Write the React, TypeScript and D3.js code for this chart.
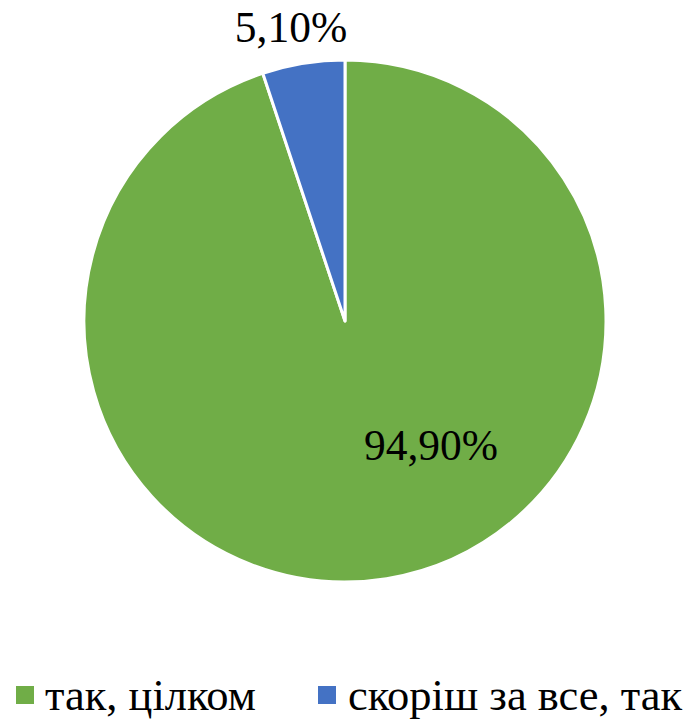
import React from "react";
import * as d3 from "d3";

const categories = ["так, цілком", "скоріш за все, так"];
const values = [94.9, 5.1];
const labels = ["94,90%", "5,10%"];
const colors = ["#70AD47", "#4472C4"];

const FONT = '"Liberation Serif"';

export default function App() {
  const width = 697;
  const height = 721;
  const cx = 345;
  const cy = 321;
  const r = 261;

  const pie = d3.pie<number>().sort(null).value((d) => d);
  const arcs = pie(values);
  const arc = d3.arc<d3.PieArcDatum<number>>().innerRadius(0).outerRadius(r);

  const labelPos = [
    { x: 431, y: 460 },
    { x: 291, y: 42 },
  ];

  const legendItems = [
    { sx: 16, tx: 45 },
    { sx: 318, tx: 348 },
  ];

  return (
    <svg
      width={width}
      height={height}
      style={{ position: "absolute", left: 0, top: 0, background: "#fff" }}
    >
      <g transform={`translate(${cx},${cy})`}>
        {arcs.map((a, i) => (
          <path
            key={i}
            d={arc(a) || ""}
            fill={colors[i]}
            stroke="#fff"
            strokeWidth={3}
            strokeLinejoin="round"
          />
        ))}
      </g>
      {labels.map((t, i) => (
        <text
          key={i}
          x={labelPos[i].x}
          y={labelPos[i].y}
          textAnchor="middle"
          style={{ fontFamily: FONT, fontSize: 43.5 }}
          fill="#000"
        >
          {t}
        </text>
      ))}
      {categories.map((c, i) => (
        <g key={i}>
          <rect x={legendItems[i].sx} y={686} width={18} height={18} fill={colors[i]} />
          <text
            x={legendItems[i].tx}
            y={710}
            style={{ fontFamily: FONT, fontSize: 44.5 }}
            fill="#000"
          >
            {c}
          </text>
        </g>
      ))}
    </svg>
  );
}
